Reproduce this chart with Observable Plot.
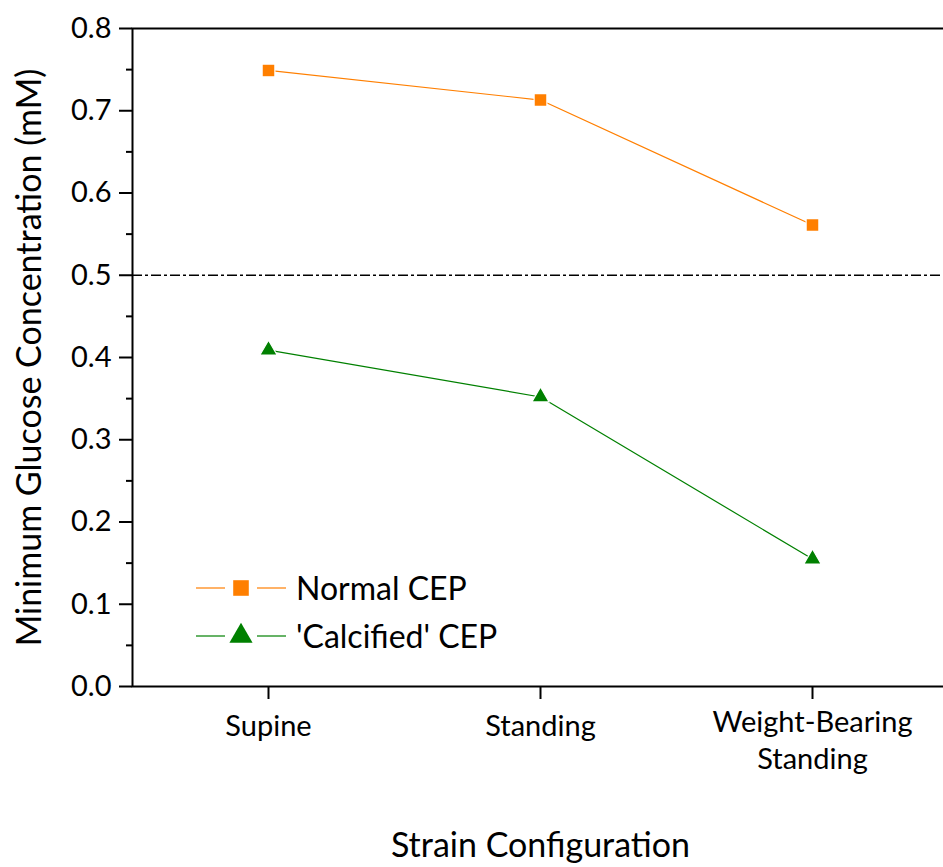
<!DOCTYPE html>
<html>
<head>
<meta charset="utf-8">
<script src="https://cdn.jsdelivr.net/npm/d3@7"></script>
<script src="https://cdn.jsdelivr.net/npm/@observablehq/plot@0.6"></script>
<style>
  html, body { margin: 0; padding: 0; background: #fff; }
  #chart svg { display: block; }
</style>
</head>
<body>
<div id="chart"></div>
<script>
const categories = ["Supine", "Standing", "Weight-Bearing\nStanding"];
const normalCEP = [0.749, 0.713, 0.561];
const calcifiedCEP = [0.409, 0.352, 0.155];
const seriesNames = ["Normal CEP", "'Calcified' CEP"];
const seriesColors = ["#FF7F00", "#008000"];
const seriesSymbols = ["square", "triangle"];
const threshold = 0.5;
const yTicks = [0, 0.1, 0.2, 0.3, 0.4, 0.5, 0.6, 0.7, 0.8];
const yMinorTicks = [0.05, 0.15, 0.25, 0.35, 0.45, 0.55, 0.65, 0.75];

const rows = [];
categories.forEach((c, i) => {
  rows.push({cat: c, value: normalCEP[i], series: seriesNames[0]});
  rows.push({cat: c, value: calcifiedCEP[i], series: seriesNames[1]});
});
const normalRows = rows.filter(d => d.series === seriesNames[0]);
const calcRows = rows.filter(d => d.series === seriesNames[1]);
const singleLineCats = categories.filter(c => !c.includes("\n"));
const multiLineCats = categories.filter(c => c.includes("\n"));

const FONT = "Lato, 'Open Sans', sans-serif";

const plot = Plot.plot({
  width: 943,
  height: 867,
  marginLeft: 132,
  marginRight: -5,
  marginTop: 28,
  marginBottom: 181,
  style: {fontFamily: FONT, fontSize: "29px", color: "#000", background: "#fff"},
  x: {type: "point", domain: categories, padding: 0.5},
  y: {domain: [0, 0.8]},
  marks: [
    Plot.ruleY([threshold], {stroke: "#000", strokeWidth: 1.5, strokeDasharray: "10,3,3,3"}),
    Plot.axisY({ticks: yMinorTicks, tickSize: 6, strokeWidth: 2, text: null, label: null}),
    Plot.axisY({ticks: yTicks, tickSize: 13, tickPadding: 8, strokeWidth: 2,
      tickFormat: d3.format(".1f"), fontSize: 29, label: null}),
    Plot.axisY({ticks: [], label: "Minimum Glucose Concentration (mM)", labelAnchor: "center",
      labelOffset: 116, labelArrow: "none", fontSize: 34}),
    Plot.axisX({ticks: singleLineCats, tickSize: 13, tickPadding: 16, strokeWidth: 2, fontSize: 29, label: null}),
    Plot.axisX({ticks: multiLineCats, tickSize: 13, tickPadding: 6, strokeWidth: 2, fontSize: 29,
      lineHeight: 1.28, label: null}),
    Plot.axisX({ticks: [], label: "Strain Configuration", labelAnchor: "center",
      labelOffset: 170, labelArrow: "none", fontSize: 34}),
    Plot.frame({stroke: "#000", strokeWidth: 2}),
    Plot.line(normalRows, {x: "cat", y: "value", stroke: seriesColors[0], strokeWidth: 1.2}),
    Plot.line(calcRows, {x: "cat", y: "value", stroke: seriesColors[1], strokeWidth: 1.2}),
    Plot.dot(normalRows, {x: "cat", y: "value", symbol: seriesSymbols[0], r: 7.2, fill: seriesColors[0], stroke: "#fff", strokeWidth: 1.2}),
    Plot.dot(calcRows, {x: "cat", y: "value", symbol: seriesSymbols[1], r: 6.4, fill: seriesColors[1], stroke: "#fff", strokeWidth: 1.2})
  ]
});

// Legend inside the plot area
const svg = d3.select(plot);
const legend = svg.append("g").attr("font-family", FONT).attr("font-size", 32)
  .attr("text-anchor", "start");
seriesNames.forEach((name, i) => {
  const g = legend.append("g").attr("transform", `translate(0, ${588 + i * 48})`);
  g.append("line").attr("x1", 196).attr("x2", 225).attr("stroke", seriesColors[i]).attr("stroke-width", 1.2);
  g.append("line").attr("x1", 257).attr("x2", 286).attr("stroke", seriesColors[i]).attr("stroke-width", 1.2);
  const size = i === 0 ? Math.PI * 8.8 * 8.8 : Math.PI * 8.6 * 8.6;
  const sym = i === 0 ? d3.symbolSquare : d3.symbolTriangle;
  g.append("path").attr("d", d3.symbol(sym, size)()).attr("transform", "translate(241,0)")
    .attr("fill", seriesColors[i]);
  g.append("text").attr("x", 296).attr("y", 0).attr("dy", "0.36em").attr("fill", "#000").text(name);
});

document.getElementById("chart").appendChild(plot);
</script>
</body>
</html>
